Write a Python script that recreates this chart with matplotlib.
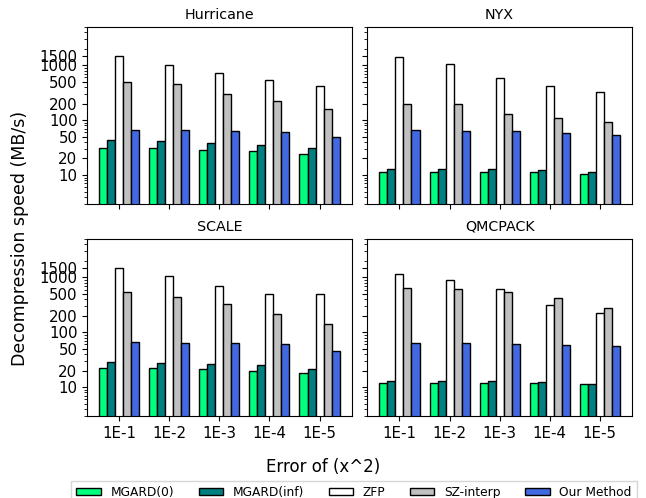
import numpy as np
import matplotlib
matplotlib.use('Agg')
import matplotlib.pyplot as plt

error_bounds = ['1E-1', '1E-2', '1E-3', '1E-4', '1E-5']
methods = ['MGARD(0)', 'MGARD(inf)', 'ZFP', 'SZ-interp', 'Our Method']
colors = ['springgreen', 'teal', 'white', 'silver', 'royalblue']
datasets = ['Hurricane', 'NYX', 'SCALE', 'QMCPACK']

# decompression speed (MB/s), one row per method
hurricane = [
    [31.2, 30.7, 29.0, 27.1, 24.5],
    [43.0, 41.9, 38.5, 34.9, 30.7],
    [1480, 1014, 714, 539, 413],
    [495, 449, 299, 219, 159],
    [65.6, 64.7, 63.0, 59.5, 48.9],
]
nyx = [
    [11.5, 11.5, 11.5, 11.2, 10.6],
    [12.9, 12.9, 12.7, 12.3, 11.5],
    [1400, 1057, 595, 413, 325],
    [199, 196, 127, 109, 90.6],
    [64.7, 63.0, 63.0, 57.8, 53.2],
]
scale = [
    [22.6, 22.3, 21.3, 19.9, 18.3],
    [28.3, 27.9, 26.7, 24.9, 21.6],
    [1503, 1072, 704, 503, 503],
    [547, 431, 321, 219, 144],
    [65.6, 64.7, 63.8, 61.2, 45.6],
]
qmcpack = [
    [11.7, 11.7, 11.7, 11.7, 11.3],
    [13.1, 13.2, 12.9, 12.5, 11.5],
    [1167, 881, 603, 316, 226],
    [647, 612, 532, 425, 279],
    [63.0, 63.0, 62.1, 58.7, 56.2],
]
all_data = [hurricane, nyx, scale, qmcpack]

yticks = [10, 20, 50, 100, 200, 500, 1000, 1500]

fig, axes = plt.subplots(2, 2, figsize=(6.46, 4.98), dpi=100, sharex=True, sharey=True)
fig.subplots_adjust(left=0.135, right=0.978, top=0.946, bottom=0.165, wspace=0.06, hspace=0.2)

x = np.arange(len(error_bounds))
width = 0.16
for ax, name, data in zip(axes.flat, datasets, all_data):
    for i, (method, color) in enumerate(zip(methods, colors)):
        ax.bar(x + (i - 2) * width, data[i], width, color=color, edgecolor='black',
               linewidth=1, label=method)
    ax.set_yscale('log')
    ax.set_title(name, fontsize=10.3)
    ax.set_ylim(3, 5000)
    ax.set_yticks(yticks)
    ax.set_yticklabels([str(t) for t in yticks])
    ax.set_xticks(x)
    ax.set_xticklabels(error_bounds)
    ax.tick_params(labelsize=10.8)

for ax in axes[:, 1]:
    ax.tick_params(labelleft=False)

fig.text(0.031, 0.522, 'Decompression speed (MB/s)', rotation=90, ha='center', va='center', fontsize=12.5)
fig.text(0.5, 0.062, 'Error of (x^2)', ha='center', va='center', fontsize=12)

handles, labels = axes[0, 0].get_legend_handles_labels()
fig.legend(handles, labels, ncol=5, loc='upper center', bbox_to_anchor=(0.548, 0.034),
           borderaxespad=0, fontsize=8.8, fancybox=False, handleheight=0.55)

fig.savefig('out.png', dpi=100)
